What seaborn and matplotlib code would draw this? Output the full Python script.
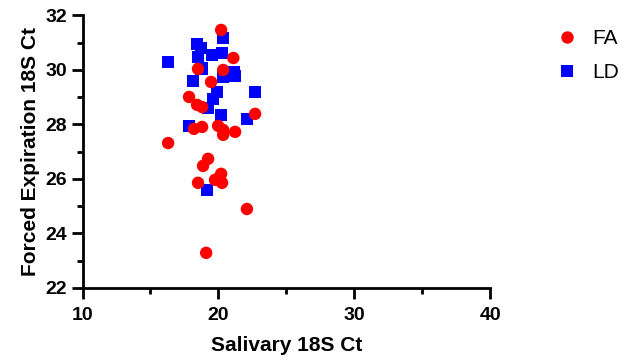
import matplotlib
matplotlib.use("Agg")
from matplotlib import pyplot as plt
from matplotlib.ticker import MultipleLocator
import pandas as pd
import seaborn as sns

sns.set_style('white')
plt.rcParams['font.family'] = ['Liberation Sans', 'DejaVu Sans']
plt.rcParams['text.color'] = 'black'
plt.rcParams['axes.labelcolor'] = 'black'

# Forced Expiration vs Salivary 18S Ct, two groups
ld_saliva = [20.35, 18.43, 18.73, 16.3, 18.5, 19.54, 20.27, 21.16, 21.2, 18.14,
             20.35, 19.9, 22.7, 19.6, 19.24, 20.2, 22.1, 17.84, 19.17, 18.75]
ld_forced = [31.17, 30.95, 30.81, 30.29, 30.48, 30.55, 30.62, 29.93, 29.78, 29.6,
             29.74, 29.19, 29.19, 28.94, 28.6, 28.35, 28.2, 27.95, 25.6, 30.05]

fa_saliva = [20.2, 21.1, 18.5, 20.35, 19.46, 17.84, 18.43, 18.8, 22.7, 18.2,
             18.8, 19.98, 20.35, 20.35, 21.23, 16.3, 19.24, 18.87, 20.2, 19.75,
             20.27, 18.5, 22.1, 19.1]
fa_forced = [31.47, 30.44, 30.04, 30.0, 29.56, 29.01, 28.72, 28.64, 28.39, 27.84,
             27.91, 27.95, 27.8, 27.62, 27.73, 27.32, 26.74, 26.48, 26.19, 25.97,
             25.86, 25.86, 24.9, 23.29]

df = pd.DataFrame({
    "saliva": ld_saliva + fa_saliva,
    "forced": ld_forced + fa_forced,
    "group": ["LD"] * len(ld_saliva) + ["FA"] * len(fa_saliva),
})

fig = plt.figure(figsize=(6.3, 3.6), dpi=100)
ax = fig.add_axes([0.131, 0.2, 0.647, 0.757])

sns.scatterplot(data=df, x="saliva", y="forced", hue="group", style="group",
                hue_order=["FA", "LD"], style_order=["FA", "LD"],
                palette={"FA": "#ff0000", "LD": "#0000ff"},
                markers={"FA": "o", "LD": "s"}, s=80, linewidth=0,
                ax=ax, clip_on=False)

ax.set_xlim(10, 40)
ax.set_ylim(22, 32)
ax.xaxis.set_major_locator(MultipleLocator(10))
ax.xaxis.set_minor_locator(MultipleLocator(5))
ax.yaxis.set_major_locator(MultipleLocator(2))
ax.yaxis.set_minor_locator(MultipleLocator(1))
ax.tick_params(which='major', direction='out', length=8, width=2, labelsize=14,
               bottom=True, left=True, pad=3, color='black', labelcolor='black')
ax.tick_params(axis='x', which='major', pad=6)
ax.tick_params(which='minor', direction='out', length=4.5, width=2,
               bottom=True, left=True, color='black')
for lab in ax.get_xticklabels() + ax.get_yticklabels():
    lab.set_fontweight('bold')

for side in ['left', 'bottom']:
    ax.spines[side].set_linewidth(2)
    ax.spines[side].set_color('black')
sns.despine(ax=ax)

ax.set_xlabel("Salivary 18S Ct", fontsize=15, fontweight='bold', labelpad=8)
ax.set_ylabel("Forced Expiration 18S Ct", fontsize=15, fontweight='bold', labelpad=4)

sns.move_legend(ax, "upper left", bbox_to_anchor=(0.8835, 0.92),
                bbox_transform=fig.transFigure, frameon=False, borderpad=0,
                borderaxespad=0, title=None, fontsize=15, handlelength=1,
                handletextpad=0.7, labelspacing=0.73)

plt.savefig("out.png", dpi=100)
plt.close()
